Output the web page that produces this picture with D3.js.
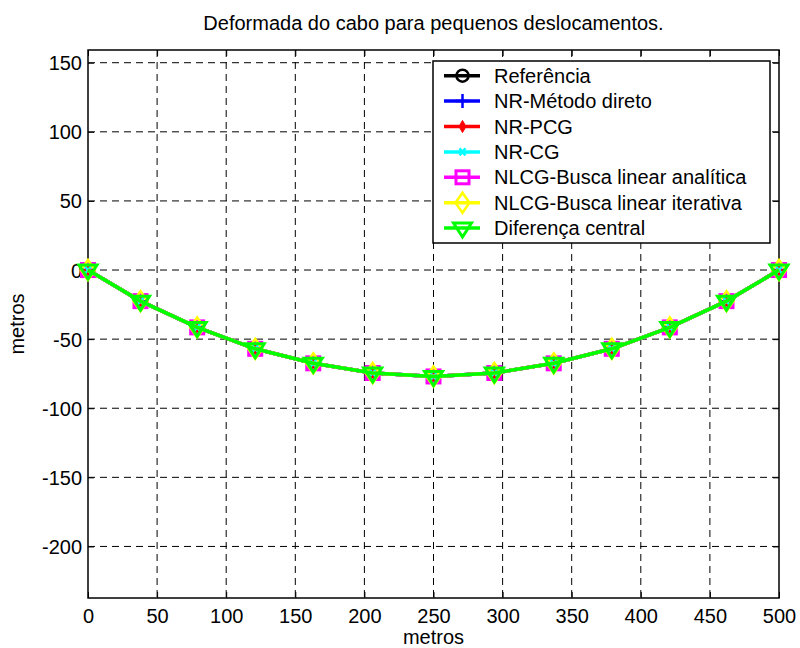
<!DOCTYPE html>
<html>
<head>
<meta charset="utf-8">
<script src="https://cdn.jsdelivr.net/npm/d3@7"></script>
<style>
  body { margin: 0; background: #fff; }
  svg text { font-family: "Liberation Sans", Arial, sans-serif; fill: #000; }
</style>
</head>
<body>
<script>
// node positions along the span (metros)
var xNodes = [0, 38, 79, 121, 163, 206, 250, 294, 337, 379, 421, 462, 500];

// vertical displacement of each node, one array per method
var yRef   = [0, -22.5, -41.5, -57, -67.5, -74.5, -77, -74.5, -67.5, -57, -41.5, -22.5, 0];
var yNRDir = [0, -22.5, -41.5, -57, -67.5, -74.5, -77, -74.5, -67.5, -57, -41.5, -22.5, 0];
var yNRPCG = [0, -22.5, -41.5, -57, -67.5, -74.5, -77, -74.5, -67.5, -57, -41.5, -22.5, 0];
var yNRCG  = [0, -22.5, -41.5, -57, -67.5, -74.5, -77, -74.5, -67.5, -57, -41.5, -22.5, 0];
var yNLAn  = [0, -22.5, -41.5, -57, -67.5, -74.5, -77, -74.5, -67.5, -57, -41.5, -22.5, 0];
var yNLIt  = [0, -22.5, -41.5, -57, -67.5, -74.5, -77, -74.5, -67.5, -57, -41.5, -22.5, 0];
var yDifC  = [0, -22.5, -41.5, -57, -67.5, -74.5, -77, -74.5, -67.5, -57, -41.5, -22.5, 0];

var seriesNames = ["Referência", "NR-Método direto", "NR-PCG", "NR-CG",
                   "NLCG-Busca linear analítica", "NLCG-Busca linear iterativa", "Diferença central"];
var seriesY = [yRef, yNRDir, yNRPCG, yNRCG, yNLAn, yNLIt, yDifC];
var seriesColor = ["#000000", "#0000ff", "#ff0000", "#00ffff", "#ff00ff", "#ffff00", "#00ff00"];
var seriesMarker = ["circle", "plus", "dot", "cross", "square", "diamond", "triangle"];

var xTicks = [0, 50, 100, 150, 200, 250, 300, 350, 400, 450, 500];
var yTicks = [150, 100, 50, 0, -50, -100, -150, -200];

var W = 800, H = 648;
var pL = 88, pR = 779, pT = 50, pB = 598;

var svg = d3.select("body").append("svg")
  .attr("width", W)
  .attr("height", H)

var x = d3.scaleLinear().domain([0, 500]).range([pL, pR]);
var y = d3.scaleLinear().domain([-237.3, 159.2]).range([pB, pT]);

// grid
var grid = svg.append("g")
grid.selectAll(".gx")
  .data(xTicks.slice(1, -1))
  .enter()
  .append("line")
  .attr("x1", function(d) {return x(d);})
  .attr("x2", function(d) {return x(d);})
  .attr("y1", pT)
  .attr("y2", pB)
  .attr("stroke", "#000")
  .attr("stroke-width", 1)
  .attr("stroke-dasharray", "7,5")
grid.selectAll(".gy")
  .data(yTicks)
  .enter()
  .append("line")
  .attr("x1", pL)
  .attr("x2", pR)
  .attr("y1", function(d) {return y(d);})
  .attr("y2", function(d) {return y(d);})
  .attr("stroke", "#000")
  .attr("stroke-width", 1)
  .attr("stroke-dasharray", "7,5")

// axes with inward ticks on all four sides
var plain = function(d) {return String(d);}
var axB = svg.append("g").attr("transform", "translate(0," + pB + ")")
  .call(d3.axisBottom(x).tickValues(xTicks).tickSizeInner(-6).tickSizeOuter(0).tickFormat(plain))
var axT = svg.append("g").attr("transform", "translate(0," + pT + ")")
  .call(d3.axisTop(x).tickValues(xTicks).tickSizeInner(-6).tickSizeOuter(0).tickFormat(""))
var axL = svg.append("g").attr("transform", "translate(" + pL + ",0)")
  .call(d3.axisLeft(y).tickValues(yTicks).tickSizeInner(-6).tickSizeOuter(0).tickFormat(plain))
var axR = svg.append("g").attr("transform", "translate(" + pR + ",0)")
  .call(d3.axisRight(y).tickValues(yTicks).tickSizeInner(-6).tickSizeOuter(0).tickFormat(""))

svg.selectAll(".domain").remove()
svg.selectAll(".tick line").attr("stroke", "#000").attr("stroke-width", 1)
axB.selectAll("text").style("font-size", "20px").attr("dy", "0.71em").attr("y", 11)
axL.selectAll("text").style("font-size", "20px").attr("x", -6).attr("dy", "0.35em")

svg.append("rect")
  .attr("x", pL)
  .attr("y", pT)
  .attr("width", pR - pL)
  .attr("height", pB - pT)
  .attr("fill", "none")
  .attr("stroke", "#000")
  .attr("stroke-width", 1.5)

// marker drawing
var drawMarker = function(g, kind, color, cx, cy) {
  if (kind == "circle") {
    g.append("circle").attr("cx", cx).attr("cy", cy).attr("r", 6)
      .attr("fill", "none").attr("stroke", color).attr("stroke-width", 2.5)
  }
  else if (kind == "plus") {
    g.append("path").attr("d", "M" + (cx - 7) + "," + cy + "H" + (cx + 7) + "M" + cx + "," + (cy - 7) + "V" + (cy + 7))
      .attr("stroke", color).attr("stroke-width", 2.5)
  }
  else if (kind == "dot") {
    g.append("path").attr("d", "M" + cx + "," + (cy - 6) + "L" + (cx + 3.5) + "," + cy + "L" + cx + "," + (cy + 6) + "L" + (cx - 3.5) + "," + cy + "Z")
      .attr("fill", color).attr("stroke", color).attr("stroke-width", 1)
  }
  else if (kind == "cross") {
    g.append("path").attr("d", "M" + (cx - 3) + "," + (cy - 3.5) + "L" + (cx + 3) + "," + (cy + 3.5) + "M" + (cx - 3) + "," + (cy + 3.5) + "L" + (cx + 3) + "," + (cy - 3.5))
      .attr("stroke", color).attr("stroke-width", 2.5)
  }
  else if (kind == "square") {
    g.append("rect").attr("x", cx - 6.5).attr("y", cy - 6.5).attr("width", 13).attr("height", 13)
      .attr("fill", "none").attr("stroke", color).attr("stroke-width", 3)
  }
  else if (kind == "diamond") {
    g.append("path").attr("d", "M" + cx + "," + (cy - 10) + "L" + (cx + 7) + "," + cy + "L" + cx + "," + (cy + 10) + "L" + (cx - 7) + "," + cy + "Z")
      .attr("fill", "none").attr("stroke", color).attr("stroke-width", 2.5)
  }
  else {
    g.append("path").attr("d", "M" + (cx - 9) + "," + (cy - 5) + "L" + (cx + 9) + "," + (cy - 5) + "L" + cx + "," + (cy + 9) + "Z")
      .attr("fill", "none").attr("stroke", color).attr("stroke-width", 3)
  }
}

var line = d3.line()
  .x(function(d) {return x(d[0]);})
  .y(function(d) {return y(d[1]);})

for (var s = 0; s < seriesNames.length; s++) {
  var pts = xNodes.map(function(d, i) {return [d, seriesY[s][i]];});
  var g = svg.append("g")
  g.append("path")
    .attr("d", line(pts))
    .attr("fill", "none")
    .attr("stroke", seriesColor[s])
    .attr("stroke-width", 3.5)
  for (var i = 0; i < pts.length; i++) {
    drawMarker(g, seriesMarker[s], seriesColor[s], x(pts[i][0]), y(pts[i][1]));
  }
}

// legend
var lg = svg.append("g")
lg.append("rect")
  .attr("x", 433)
  .attr("y", 61)
  .attr("width", 337)
  .attr("height", 182)
  .attr("fill", "#fff")
  .attr("stroke", "#000")
  .attr("stroke-width", 1.5)
for (var k = 0; k < seriesNames.length; k++) {
  var ly = 75.7 + k * 25.4;
  lg.append("line")
    .attr("x1", 444).attr("x2", 480)
    .attr("y1", ly).attr("y2", ly)
    .attr("stroke", seriesColor[k])
    .attr("stroke-width", 3.5)
  drawMarker(lg, seriesMarker[k], seriesColor[k], 462.5, ly);
  lg.append("text")
    .attr("x", 494)
    .attr("y", ly)
    .attr("dy", "0.35em")
    .style("font-size", "20px")
    .text(seriesNames[k])
}

// titles
svg.append("text")
  .attr("x", (pL + pR) / 2)
  .attr("y", 30)
  .attr("text-anchor", "middle")
  .style("font-size", "20px")
  .text("Deformada do cabo para pequenos deslocamentos.")
svg.append("text")
  .attr("x", (pL + pR) / 2)
  .attr("y", 644)
  .attr("text-anchor", "middle")
  .style("font-size", "20px")
  .text("metros")
svg.append("text")
  .attr("transform", "translate(24," + ((pT + pB) / 2) + ") rotate(-90)")
  .attr("text-anchor", "middle")
  .style("font-size", "20px")
  .text("metros")
</script>
</body>
</html>
